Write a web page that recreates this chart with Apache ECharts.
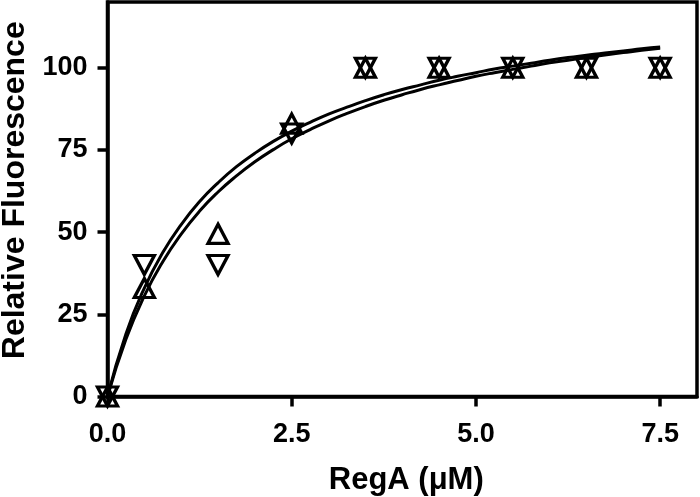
<!DOCTYPE html>
<html>
<head>
<meta charset="utf-8">
<script src="https://cdn.jsdelivr.net/npm/echarts@6/dist/echarts.min.js"></script>
<style>html,body{margin:0;padding:0;background:#fff;}#c{width:700px;height:497px;}</style>
</head>
<body>
<div id="c"></div>
<script>
// Data
var xPoints = [0, 0.5, 1.5, 2.5, 3.5, 4.5, 5.5, 6.5, 7.5];
var upValues = [0, 33, 49.5, 83, 100, 100, 100, 100, 100];
var downValues = [0, 40, 40, 80, 100, 100, 100, 100, 100];

// Fitted curves at steps of 0.25
var curveX = [0, 0.25, 0.5, 0.75, 1, 1.25, 1.5, 1.75, 2, 2.25, 2.5, 2.75, 3, 3.25, 3.5, 3.75,
              4, 4.25, 4.5, 4.75, 5, 5.25, 5.5, 5.75, 6, 6.25, 6.5, 6.75, 7, 7.25, 7.5];
var curveUpper = [0, 19.0, 33.0, 43.8, 52.3, 59.3, 65.0, 69.9, 74.0, 77.6, 80.7, 83.4, 85.9, 88.0, 90.0, 91.8,
                  93.4, 94.8, 96.2, 97.4, 98.5, 99.6, 100.5, 101.4, 102.3, 103.1, 103.8, 104.5, 105.1, 105.8, 106.3];
var curveLower = [0, 17.4, 30.6, 41.0, 49.4, 56.4, 62.2, 67.1, 71.4, 75.1, 78.4, 81.2, 83.8, 86.1, 88.2, 90.1,
                  91.8, 93.4, 94.8, 96.1, 97.4, 98.5, 99.5, 100.5, 101.5, 102.3, 103.1, 103.9, 104.6, 105.3, 105.9];

var xTicks = [0, 2.5, 5, 7.5];
var yTicks = [0, 25, 50, 75, 100];

function pairs(xs, ys) { return xs.map(function (x, i) { return [x, ys[i]]; }); }

var font = '"Liberation Sans", Arial, sans-serif';
var chart = echarts.init(document.getElementById('c'), null, { renderer: 'canvas' });
chart.setOption({
  animation: false,
  grid: { left: 107.5, right: 3, top: 2, bottom: 100.5, outerBoundsMode: 'none', containLabel: false,
          show: true, borderColor: '#000', borderWidth: 3.5, backgroundColor: 'transparent' },
  xAxis: {
    type: 'value', min: 0, max: 8,
    name: 'RegA (\u03bcM)', nameLocation: 'middle', nameGap: 68,
    nameTextStyle: { fontFamily: font, fontWeight: 'bold', fontSize: 31, color: '#000', padding: [0, 0, 0, 8] },
    axisLine: { show: true, onZero: false, lineStyle: { color: '#000', width: 3.5 } },
    axisTick: { show: true, length: 10, lineStyle: { color: '#000', width: 3.5 }, customValues: xTicks },
    axisLabel: { customValues: xTicks, margin: 25, fontFamily: font, fontWeight: 'bold', fontSize: 27, color: '#000',
      formatter: function (v) { return v.toFixed(1); } },
    splitLine: { show: false }
  },
  yAxis: {
    type: 'value', min: 0, max: 120,
    name: 'Relative Fluorescence', nameLocation: 'middle', nameGap: 76,
    nameTextStyle: { fontFamily: font, fontWeight: 'bold', fontSize: 32, color: '#000', padding: [0, 0, 0, 18] },
    axisLine: { show: true, onZero: false, lineStyle: { color: '#000', width: 3.5 } },
    axisTick: { show: true, length: 10, lineStyle: { color: '#000', width: 3.5 }, customValues: yTicks },
    axisLabel: { customValues: yTicks, margin: 20, fontFamily: font, fontWeight: 'bold', fontSize: 27, color: '#000' },
    splitLine: { show: false }
  },
  series: [
    { type: 'line', data: pairs(curveX, curveUpper), showSymbol: false, smooth: true,
      lineStyle: { color: '#000', width: 3 }, z: 2 },
    { type: 'line', data: pairs(curveX, curveLower), showSymbol: false, smooth: true,
      lineStyle: { color: '#000', width: 3 }, z: 2 },
    { type: 'scatter', data: pairs(xPoints, upValues), symbol: 'triangle', symbolSize: [20, 19], clip: false,
      itemStyle: { color: 'rgba(255,255,255,0)', borderColor: '#000', borderWidth: 3.3, opacity: 1 }, z: 3 },
    { type: 'scatter', data: pairs(xPoints, downValues), symbol: 'triangle', symbolRotate: 180, symbolSize: [20, 19], clip: false,
      itemStyle: { color: 'rgba(255,255,255,0)', borderColor: '#000', borderWidth: 3.3, opacity: 1 }, z: 3 }
  ]
});
</script>
</body>
</html>
